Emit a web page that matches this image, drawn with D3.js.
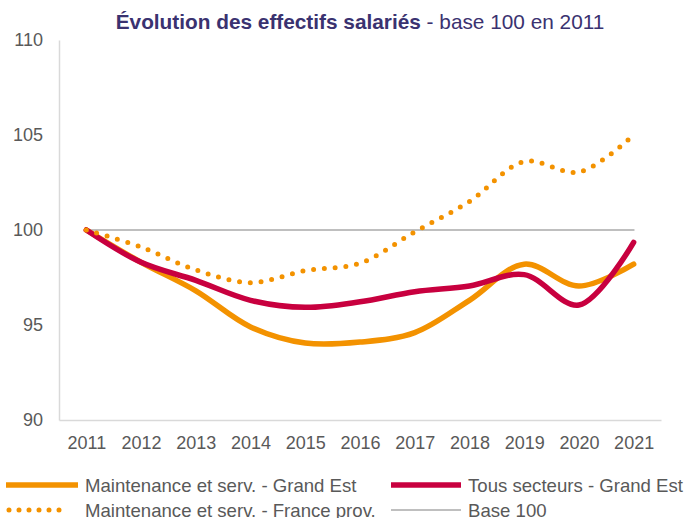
<!DOCTYPE html>
<html>
<head>
<meta charset="utf-8">
<script src="https://cdn.jsdelivr.net/npm/d3@7"></script>
<style>
  body { margin: 0; background: #fff; }
  svg text { font-family: Arial, "Liberation Sans", sans-serif; }
</style>
</head>
<body>
<svg id="chart" width="688" height="518"></svg>
<script>
// years on the category axis
const years = ["2011","2012","2013","2014","2015","2016","2017","2018","2019","2020","2021"];
const yTicks = [90, 95, 100, 105, 110];

// values (base 100 in 2011)
const maintGE   = [100, 98.3, 96.8, 94.9, 94.05, 94.1, 94.6, 96.3, 98.2, 97.05, 98.2];
const tousGE    = [100, 98.3, 97.35, 96.3, 95.93, 96.22, 96.75, 97.05, 97.65, 96.05, 99.35];
const maintFP   = [100, 99.1, 97.9, 97.23, 97.86, 98.25, 99.9, 101.5, 103.6, 103.05, 105.0];
const base100   = [100, 100, 100, 100, 100, 100, 100, 100, 100, 100, 100];

const series = [
  {name: "Base 100", values: base100, color: "#BFBFBF", width: 2.2, dash: null},
  {name: "Maintenance et serv. - Grand Est", values: maintGE, color: "#F39200", width: 5.5, dash: null},
  {name: "Tous secteurs - Grand Est", values: tousGE, color: "#C8003F", width: 5.5, dash: null},
  {name: "Maintenance et serv. - France prov.", values: maintFP, color: "#F39200", width: 5, dash: "0 10.8"}
];

const svg = d3.select("#chart");
const plotL = 59, plotR = 661, plotT = 40, plotB = 420;

const x = d3.scalePoint().domain(years).range([plotL, plotR]).padding(0.5);
const y = d3.scaleLinear().domain([90, 110]).range([plotB, plotT]);

// title
const title = svg.append("text")
  .attr("x", 360).attr("y", 29)
  .attr("text-anchor", "middle")
  .style("font-size", "20.8px")
  .style("fill", "#3A3270");
title.append("tspan").style("font-weight", "bold").text("Évolution des effectifs salariés");
title.append("tspan").text(" - base 100 en 2011");

// axes
const yAxis = svg.append("g")
  .attr("transform", `translate(${plotL},0)`)
  .call(d3.axisLeft(y).tickValues(yTicks).tickSize(0).tickPadding(16));
const xAxis = svg.append("g")
  .attr("transform", `translate(0,${plotB})`)
  .call(d3.axisBottom(x).tickSize(0).tickPadding(16));

[yAxis, xAxis].forEach(g => {
  g.select(".domain").attr("stroke", "#D9D9D9").attr("stroke-width", 1.5);
  g.selectAll("text")
    .style("font-size", "18px")
    .style("fill", "#595959")
    .style("font-family", "Arial, 'Liberation Sans', sans-serif");
});

// lines
const line = d3.line()
  .x((d, i) => x(years[i]))
  .y(d => y(d))
  .curve(d3.curveCatmullRom.alpha(0.5));

series.forEach(s => {
  svg.append("path")
    .datum(s.values)
    .attr("d", s.name === "Base 100" ? d3.line().x((d, i) => x(years[i])).y(d => y(d)) : line)
    .attr("fill", "none")
    .attr("stroke", s.color)
    .attr("stroke-width", s.width)
    .attr("stroke-linecap", "round")
    .attr("stroke-linejoin", "round")
    .attr("stroke-dasharray", s.dash);
});

// legend (two columns, two rows)
const legendItems = [
  {s: series[1], x: 6, len: 72, tx: 85, y: 485},
  {s: series[2], x: 391, len: 70, tx: 468, y: 485},
  {s: series[3], x: 9, len: 60, tx: 85, y: 510},
  {s: series[0], x: 391, len: 70, tx: 468, y: 510}
];
legendItems.forEach(it => {
  const g = svg.append("g");
  g.append("line")
    .attr("x1", it.x).attr("x2", it.x + it.len)
    .attr("y1", it.y).attr("y2", it.y)
    .attr("stroke", it.s.color)
    .attr("stroke-width", it.s.width)
    .attr("stroke-linecap", it.s.dash ? "round" : "butt")
    .attr("stroke-dasharray", it.s.dash ? "0 10" : null);
  g.append("text")
    .attr("x", it.tx)
    .attr("y", it.y)
    .attr("dy", "0.35em")
    .style("font-size", "18.6px")
    .style("fill", "#595959")
    .text(it.s.name);
});
</script>
</body>
</html>
